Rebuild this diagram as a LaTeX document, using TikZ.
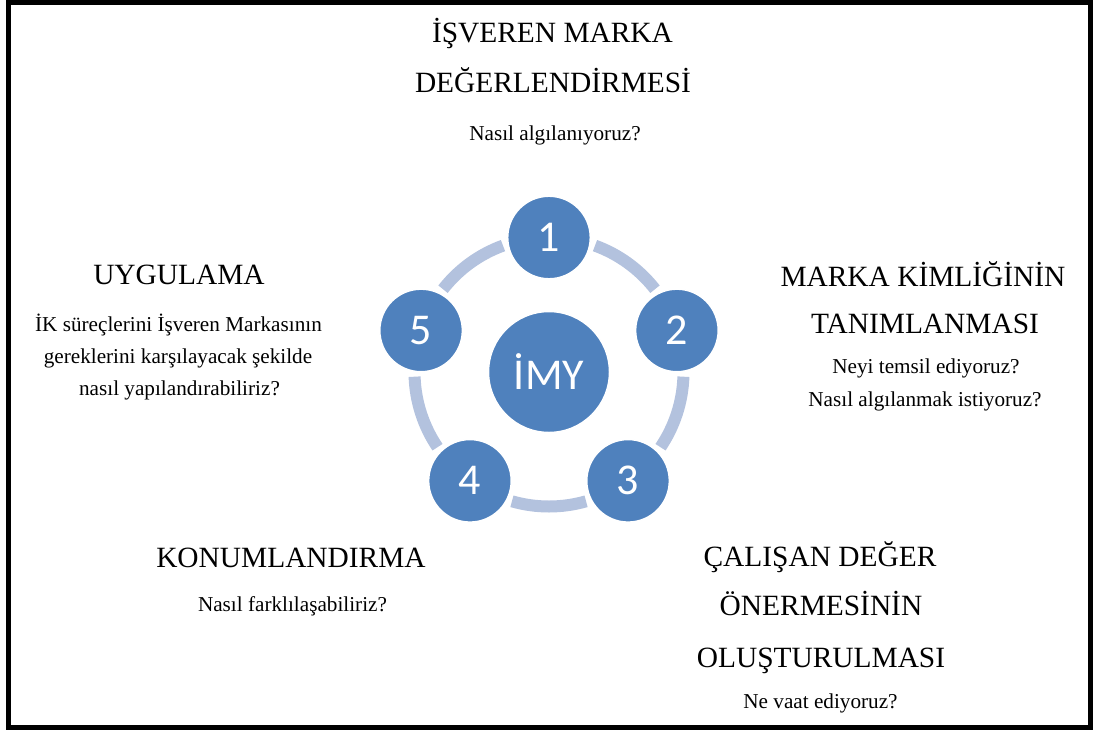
\documentclass[tikz,border=0pt]{standalone}
\usepackage{fontspec}
\setmainfont{Liberation Serif}
\newfontfamily\numfont{Carlito}
\definecolor{discblue}{HTML}{4F81BD}
\definecolor{ringblue}{HTML}{B3C2DE}
\tikzset{
  disc/.style={circle, fill=discblue, draw=white, line width=1.5pt, inner sep=0pt,
               minimum size=82.6pt, text=white, font=\numfont\fontsize{44}{44}\selectfont},
  hub/.style={disc, minimum size=121pt},
  ring/.style={ringblue, line width=12pt},
  headline/.style={anchor=base, font=\fontsize{29.4}{29.4}\selectfont},
  question/.style={anchor=base, font=\fontsize{21.2}{21.2}\selectfont},
}
\begin{document}
\begin{tikzpicture}[x=1pt,y=1pt]
\useasboundingbox (0,0) rectangle (1094,-731);
\draw[line width=5pt] (8.5,-2.2) rectangle (1090.8,-727);

% the cycle around the centre
\coordinate (c) at (549,-372);
\foreach \a/\b in {70/38, -2/-34, -74/-106, -146/-178, 142/110}
  \draw[ring] ([shift={(\a:134.5)}]c) arc[start angle=\a, end angle=\b, radius=134.5];

\node[hub]  (hub) at (c) {İMY};
\node[disc] (n1) at ([shift={(90:134.5)}]c)   {1};
\node[disc] (n2) at ([shift={(18:134.5)}]c)   {2};
\node[disc] (n3) at ([shift={(-54:134.5)}]c)  {3};
\node[disc] (n4) at ([shift={(-126:134.5)}]c) {4};
\node[disc] (n5) at ([shift={(162:134.5)}]c)  {5};

% step 1
\node[headline] (t1a) at (552.5,-42.7) {İŞVEREN MARKA};
\node[headline] (t1b) at (553,-92.7) {DEĞERLENDİRMESİ};
\node[question] (q1)  at (555,-140) {Nasıl algılanıyoruz?};

% step 2
\node[headline] (t2a) at (923,-286) {MARKA KİMLİĞİNİN};
\node[headline] (t2b) at (925,-333.3) {TANIMLANMASI};
\node[question] (q2a) at (926,-373.3) {Neyi temsil ediyoruz?};
\node[question] (q2b) at (925,-406.7) {Nasıl algılanmak istiyoruz?};

% step 3
\node[headline] (t3a) at (820,-566.7) {ÇALIŞAN DEĞER};
\node[headline] (t3b) at (821,-615) {ÖNERMESİNİN};
\node[headline] (t3c) at (821,-667.3) {OLUŞTURULMASI};
\node[question] (q3)  at (820.5,-708.3) {Ne vaat ediyoruz?};

% step 4
\node[headline] (t4) at (291,-567.3) {KONUMLANDIRMA};
\node[question] (q4) at (292.5,-611.7) {Nasıl farklılaşabiliriz?};

% step 5
\node[headline] (t5)  at (179,-284.3) {UYGULAMA};
\node[question] (q5a) at (178.5,-331.7) {İK süreçlerini İşveren Markasının};
\node[question] (q5b) at (178,-363.3) {gereklerini karşılayacak şekilde};
\node[question] (q5c) at (179.5,-395) {nasıl yapılandırabiliriz?};
\end{tikzpicture}
\end{document}
